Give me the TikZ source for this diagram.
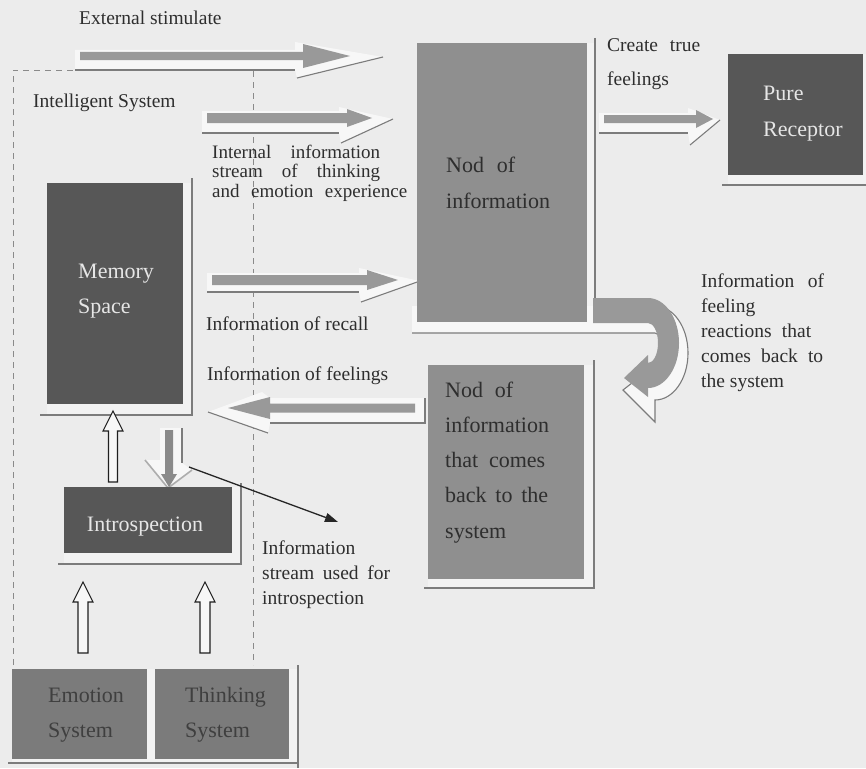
\documentclass[tikz,border=0pt]{standalone}
\usepackage{fontspec}
\setmainfont{Liberation Serif}
\usetikzlibrary{calc,arrows.meta}
\definecolor{bg}{HTML}{ECECEC}
\definecolor{darkbox}{HTML}{575757}
\definecolor{midbox}{HTML}{8F8F8F}
\definecolor{sysbox}{HTML}{7B7B7B}
\definecolor{arrowfill}{HTML}{999999}
\definecolor{shadefill}{HTML}{F7F7F7}
\definecolor{boxshade}{HTML}{F2F2F2}
\definecolor{shadeline}{HTML}{7C7C7C}
\definecolor{lighttext}{HTML}{E6E6E6}
\definecolor{darktext}{HTML}{2E2E2E}
\definecolor{systext}{HTML}{3F3F3F}
\definecolor{dashcol}{HTML}{8A8A8A}
\newcommand\mlines[2]{\vtop{\baselineskip=#1pt\lineskiplimit=-1000pt\lineskip=0pt\halign{##\hfil\cr#2\crcr}}}
\newcommand\rblock[9]{%
  \fill[shadefill] (#1-5,#4-#5-2) -- (#2-8,#4-#5-2) -- (#2-8,#4-#6-2) -- (#7,#4+1) -- (#2-6,#4+#9) -- (#2-8,#4+#8) -- (#1-5,#4+#8) -- cycle;
  \draw[shadowln] (#1-5,#4+#8) -- (#2-8,#4+#8);
  \draw[shadowln] (#2-6,#4+#9) -- (#7,#4+1);
  \fill[arrowfill] (#1,#4-#5) -- (#2,#4-#5) -- (#2,#4-#6) -- (#3,#4) -- (#2,#4+#6) -- (#2,#4+#5) -- (#1,#4+#5) -- cycle;}
\newcommand\uphollow[4]{%
  \draw[hollow] (#1-#4,#2) -- (#1-#4,#3+20) -- (#1-10,#3+20) -- (#1,#3) -- (#1+10,#3+20) -- (#1+#4,#3+20) -- (#1+#4,#2) -- cycle;}
\begin{document}
\begin{tikzpicture}[x=1pt,y=-1pt,
  box/.style={rectangle, inner sep=0, outer sep=0, anchor=north west, draw=none},
  lbl/.style={inner sep=0, anchor=base west, text=darktext, font=\fontsize{19.5}{23}\selectfont},
  blbl/.style={inner sep=0, anchor=base west, font=\fontsize{22}{26}\selectfont},
  shadowln/.style={draw=shadeline, line width=1.1},
  hollow/.style={draw=black!88, fill=shadefill, line width=1.1},
  bound/.style={draw=dashcol, line width=0.9, dash pattern=on 6pt off 5pt}]
\fill[bg] (0,0) rectangle (866,768);
\useasboundingbox (0,0) rectangle (866,768);

% intelligent system boundary
\draw[bound] (13,665) -- (13,70) -- (253,70) -- (253,665);

% box shadows
\fill[boxshade] (417,43) rectangle (595,333);
\draw[shadowln] (595,38) -- (595,298);
\fill[boxshade] (728,54) rectangle (870,185);
\draw[shadowln] (722,185) -- (870,185);
\fill[boxshade] (47,183) rectangle (192,415);
\draw[shadowln] (192,178) -- (192,415) -- (40,415);
\fill[boxshade] (428,365) rectangle (594,588);
\draw[shadowln] (594,360) -- (594,588) -- (424,588);
\fill[boxshade] (64,487) rectangle (241,564);
\draw[shadowln] (241,483) -- (241,564) -- (58,564);
\fill[boxshade] (12,669) rectangle (298,763);
\draw[shadowln] (298,665) -- (298,768);
\draw[shadowln] (8,763) -- (298,763);

% curved arrow shadow
\fill[shadefill] (412,306) -- (655,306) arc[start angle=-90, end angle=90, x radius=33, y radius=47] -- (655,422) -- (623,390) -- (655,365) -- (655,373) arc[start angle=90, end angle=-90, x radius=8, y radius=20] -- (412,333) -- cycle;
\draw[shadowln] (593,306) -- (655,306) arc[start angle=-90, end angle=90, x radius=33, y radius=47] -- (655,422) -- (623,390) -- (655,365) -- (655,373) arc[start angle=90, end angle=-90, x radius=8, y radius=20] -- (412,333);

% block arrows
\rblock{80}{303}{350}{56}{4}{12}{383}{14}{22}
\rblock{207}{347}{372}{118}{5}{9}{393}{15}{25}
\rblock{212}{367}{398}{280}{5}{10}{420}{12}{22}
\rblock{604}{696}{713}{119}{4}{9}{720}{14}{26}

% left block arrow (feelings)
\fill[shadefill] (425,398) -- (425,423) -- (270,423) -- (268,433) -- (208,412) -- (262,392) -- (270,398) -- cycle;
\draw[shadowln] (425,398) -- (425,423) -- (270,423);
\draw[shadowln] (268,433) -- (208,412);
\fill[arrowfill] (415,403.5) -- (270,403.5) -- (270,397) -- (228,408) -- (270,419) -- (270,412.5) -- (415,412.5) -- cycle;

% down arrow memory -> introspection
\fill[shadefill] (160,428) -- (182,428) -- (182,463) -- (192,470) -- (168,488) -- (145,460) -- (160,460) -- cycle;
\draw[shadowln] (182,428) -- (182,463);
\draw[draw=black!32, line width=1.6] (145,460) -- (168,488) -- (192,470);
\fill[arrowfill!90!black] (165,430) -- (173,430) -- (173,474) -- (177,474) -- (169,487) -- (161,474) -- (165,474) -- cycle;

% boxes
\node[box, fill=midbox, minimum width=170, minimum height=279] (nodinfo) at (417,43) {};
\node[box, fill=darkbox, minimum width=135, minimum height=121] (pure) at (728,54) {};
\node[box, fill=darkbox, minimum width=136, minimum height=221] (memory) at (47,183) {};
\node[box, fill=midbox, minimum width=156, minimum height=214] (nodback) at (428,365) {};
\node[box, fill=darkbox, minimum width=168, minimum height=66] (intro) at (64,487) {};
\node[box, fill=sysbox, minimum width=135, minimum height=90] (emotion) at (12,669) {};
\node[box, fill=sysbox, minimum width=134, minimum height=90] (thinking) at (155,669) {};

% curved arrow (feeling reactions)
\fill[arrowfill] (593,298) -- (648,298) arc[start angle=-90, end angle=90, x radius=31, y radius=45] -- (648,397) -- (624,378) -- (648,355) -- (648,363) arc[start angle=90, end angle=-90, x radius=10, y radius=20] -- (593,323) -- cycle;

% box labels
\node[blbl, text=darktext] (tnodinfo) at (446,172) {\mlines{36}{\makebox[69pt][s]{Nod of}\cr information}};
\node[blbl, text=lighttext] (tpure) at (763,100) {\mlines{36}{Pure\cr Receptor}};
\node[blbl, text=lighttext] (tmemory) at (78,278) {\mlines{35}{Memory\cr Space}};
\node[blbl, text=darktext] (tnodback) at (445,397) {\mlines{35.3}{\makebox[68pt][s]{Nod of}\cr information\cr \makebox[100pt][s]{that comes}\cr \makebox[103pt][s]{back to the}\cr system}};
\node[blbl, text=lighttext, anchor=base] (tintro) at (145,531) {Introspection};
\node[blbl, text=systext] (temotion) at (48,702) {\mlines{35}{Emotion\cr System}};
\node[blbl, text=systext] (tthinking) at (185,702) {\mlines{35}{Thinking\cr System}};

% side labels
\node[lbl] (lext) at (79,25) {External stimulate};
\node[lbl] (lintel) at (33,107) {Intelligent System};
\node[lbl, font=\fontsize{19}{22}\selectfont] (linternal) at (212,158) {\mlines{19.5}{\makebox[168pt][s]{Internal information}\cr \makebox[168pt][s]{stream of thinking}\cr \makebox[195pt][s]{and emotion experience}}};
\node[lbl] (lrecall) at (206,330) {Information of recall};
\node[lbl] (lfeel) at (207,380) {Information of feelings};
\node[lbl] (lcreate) at (607,52) {\mlines{33}{\makebox[93pt][s]{Create true}\cr feelings}};
\node[lbl] (lreact) at (701,287) {\mlines{25}{\makebox[123pt][s]{Information of}\cr feeling\cr \makebox[110pt][s]{reactions that}\cr \makebox[122pt][s]{comes back to}\cr the system}};
\node[lbl] (lstream) at (262,554) {\mlines{25}{Information\cr \makebox[128pt][s]{stream used for}\cr introspection}};

% hollow up arrows
\uphollow{113}{482}{411}{4.5}
\uphollow{83}{653}{582}{5}
\uphollow{205}{653}{582}{5}

% thin arrow to label
\coordinate (thinS) at (189,467);
\coordinate (thinE) at (338,522);
\draw[draw=black!85, line width=1.3, -{Triangle[length=13pt,width=9pt]}] (thinS) -- (thinE);
\end{tikzpicture}
\end{document}
